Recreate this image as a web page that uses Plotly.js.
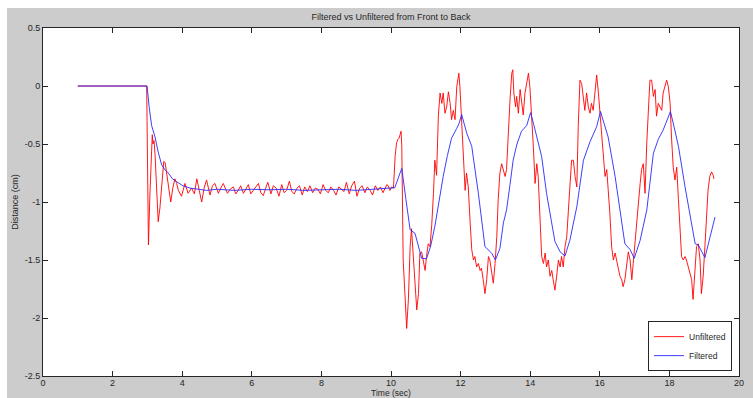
<!DOCTYPE html>
<html>
<head>
<meta charset="utf-8">
<script src="https://cdn.plot.ly/plotly-3.0.1.min.js"></script>
<style>
html,body{margin:0;padding:0;background:#ffffff;}
#chart{position:absolute;left:7px;top:8px;width:746px;height:390px;}
</style>
</head>
<body>
<div id="chart"></div>
<script>
// Unfiltered (red) series: time (s) and distance (cm)
const unfilteredT = [
1.0, 2.0, 2.98, 2.99, 3.0, 3.03, 3.07, 3.11, 3.14, 3.16, 3.19, 3.22, 3.26, 3.31, 3.36, 3.42, 3.47, 3.51, 3.55, 3.61, 3.67, 3.73, 3.79, 3.84, 3.89, 3.98, 4.08, 4.17, 4.27, 4.35, 4.42, 4.49, 4.56, 4.63, 4.70, 4.80, 4.87, 4.94, 5.04, 5.11, 5.18, 5.30, 5.38, 5.47, 5.54, 5.61, 5.68, 5.76, 5.83, 5.90, 5.97, 6.04, 6.12, 6.19, 6.26, 6.33, 6.40, 6.46,
6.55, 6.62, 6.70, 6.78, 6.86, 6.93, 7.0, 7.08, 7.15, 7.22, 7.30, 7.37, 7.45, 7.52, 7.60, 7.67, 7.75, 7.82, 7.90, 7.97, 8.05, 8.12, 8.20, 8.27, 8.35, 8.42, 8.50, 8.57, 8.65, 8.72, 8.80, 8.87, 8.95, 9.02, 9.10, 9.17, 9.25, 9.32, 9.40, 9.47, 9.55, 9.62, 9.70, 9.77, 9.83, 9.88, 9.92, 9.97, 10.02, 10.07,
10.12, 10.16, 10.20, 10.23, 10.26, 10.29, 10.31, 10.35, 10.40, 10.45, 10.50, 10.55, 10.59, 10.64, 10.69, 10.74, 10.79, 10.83, 10.88, 10.93, 10.98, 11.02, 11.07, 11.12, 11.17, 11.22, 11.26, 11.31, 11.36, 11.41, 11.46, 11.50, 11.55, 11.60, 11.65, 11.70, 11.74, 11.79, 11.84, 11.89, 11.93, 11.95, 11.98, 12.03, 12.08, 12.13, 12.17, 12.22, 12.27, 12.32, 12.37, 12.41, 12.46, 12.51, 12.56, 12.60, 12.65, 12.70, 12.75, 12.80, 12.84, 12.89, 12.94, 12.99, 13.04, 13.08, 13.13, 13.18, 13.23, 13.28, 13.32,
13.37, 13.42, 13.47, 13.50, 13.53, 13.58, 13.61, 13.66, 13.71, 13.75, 13.80, 13.85, 13.92, 13.95, 13.99, 14.04, 14.09, 14.14, 14.19, 14.23, 14.28, 14.33, 14.38, 14.43, 14.47, 14.52, 14.57, 14.62, 14.66, 14.71, 14.76, 14.81, 14.86, 14.90, 14.95, 15.0, 15.05, 15.10, 15.14, 15.19, 15.24, 15.29, 15.34, 15.38, 15.43, 15.48, 15.53, 15.57, 15.62, 15.67, 15.72, 15.76, 15.81, 15.86, 15.91, 15.96, 16.01, 16.05, 16.10, 16.15, 16.20, 16.24, 16.29, 16.34, 16.39, 16.44, 16.48, 16.53,
16.58, 16.63, 16.67, 16.72, 16.77, 16.82, 16.87, 16.92, 16.96, 17.01, 17.06, 17.11, 17.16, 17.20, 17.25, 17.30, 17.35, 17.39, 17.44, 17.49, 17.54, 17.59, 17.63, 17.68, 17.73, 17.78, 17.82, 17.87, 17.92, 17.97, 18.02, 18.06, 18.11, 18.16, 18.21, 18.26, 18.30, 18.35, 18.40, 18.45, 18.49, 18.54, 18.59, 18.64, 18.68, 18.73, 18.78, 18.83, 18.88, 18.92, 18.97, 19.02, 19.07, 19.11, 19.16, 19.21, 19.26, 19.28
];
const unfilteredV = [
0, 0, 0, -0.30, -0.85, -1.37, -0.95, -0.55, -0.42, -0.50, -0.47, -0.59, -0.90, -1.17, -1.05, -0.82, -0.65, -0.66, -0.74, -0.88, -1.00, -0.88, -0.80, -0.84, -0.90, -0.95, -0.84, -0.925, -0.88, -0.93, -0.80, -0.90, -1.00, -0.88, -0.81, -0.94, -0.86, -0.84, -0.925, -0.88, -0.84, -0.925, -0.89, -0.87, -0.93, -0.90, -0.86, -0.925, -0.88, -0.85, -0.93, -0.90, -0.87, -0.84, -0.92, -0.945, -0.88, -0.83,
-0.93, -0.86, -0.88, -0.95, -0.85, -0.92, -0.90, -0.82, -0.91, -0.93, -0.88, -0.86, -0.94, -0.87, -0.91, -0.86, -0.92, -0.88, -0.89, -0.93, -0.85, -0.90, -0.92, -0.87, -0.90, -0.94, -0.87, -0.89, -0.91, -0.83, -0.93, -0.86, -0.82, -0.95, -0.88, -0.86, -0.92, -0.87, -0.90, -0.94, -0.86, -0.90, -0.87, -0.92, -0.88, -0.85, -0.86, -0.90, -0.87, -0.88,
-0.60, -0.49, -0.46, -0.45, -0.42, -0.39, -0.52, -1.50, -1.79, -2.09, -1.84, -1.385, -1.23, -1.50, -1.75, -1.93, -1.79, -1.44, -1.43, -1.50, -1.59, -1.47, -1.36, -1.385, -1.20, -0.925, -0.64, -0.77, -0.26, -0.06, -0.15, -0.06, -0.235, -0.18, -0.05, -0.15, -0.29, -0.21, -0.29, -0.005, 0.08, 0.11, -0.005, -0.35, -0.64, -0.90, -0.75, -0.87, -1.155, -1.41, -1.50, -1.47, -1.56, -1.53, -1.59, -1.57, -1.67, -1.79, -1.67, -1.47, -1.50, -1.59, -1.70, -1.53, -1.30, -0.98, -0.75, -0.67, -0.72, -0.78, -0.72,
-0.35, -0.12, 0.11, 0.14, -0.06, -0.18, -0.09, -0.235, -0.03, -0.12, -0.25, -0.06, 0.05, 0.11, -0.005, -0.235, -0.52, -0.84, -0.67, -0.78, -1.10, -1.47, -1.53, -1.44, -1.56, -1.50, -1.64, -1.59, -1.67, -1.76, -1.64, -1.50, -1.56, -1.47, -1.56, -1.385, -1.30, -1.10, -0.87, -0.64, -0.64, -0.78, -0.87, -0.35, 0.05, 0.02, -0.09, -0.21, -0.06, -0.18, -0.235, -0.15, -0.21, -0.03, 0.095, -0.06, -0.26, -0.44, -0.64, -0.78, -0.72, -0.87, -1.10, -1.385, -1.50, -1.44, -1.50, -1.56,
-1.64, -1.67, -1.73, -1.67, -1.56, -1.43, -1.50, -1.67, -1.53, -1.33, -1.18, -1.01, -0.84, -0.72, -0.67, -0.925, -0.49, -0.21, 0.05, 0.05, -0.09, -0.03, -0.26, -0.15, -0.18, -0.21, -0.06, -0.005, 0.05, -0.005, -0.15, -0.44, -0.70, -0.81, -0.70, -0.98, -1.21, -1.47, -1.50, -1.47, -1.50, -1.56, -1.61, -1.67, -1.84, -1.64, -1.385, -1.36, -1.50, -1.79, -1.64, -1.385, -1.155, -0.90, -0.78, -0.74, -0.77, -0.80
];

// Filtered (blue) series
const filteredT = [
1.0, 2.0, 2.99, 3.05, 3.12, 3.22, 3.31, 3.41, 3.50, 3.60, 3.72, 3.84, 4.02, 4.22, 4.45, 4.70, 5.0, 5.5, 6.0, 6.5, 7.0, 7.5, 8.0, 8.5, 9.0, 9.5, 9.83, 10.0, 10.11, 10.20, 10.31, 10.43, 10.55, 10.69, 10.78, 10.88, 11.02, 11.14, 11.26, 11.38, 11.50, 11.62, 11.74, 11.89, 11.96, 12.03, 12.10, 12.18, 12.32, 12.51, 12.70, 12.89, 13.0, 13.13, 13.23, 13.32, 13.42, 13.51, 13.62, 13.75, 13.90, 14.01, 14.10, 14.19, 14.33, 14.47, 14.59, 14.71, 14.86, 15.0, 15.14, 15.34, 15.53, 15.72, 15.91, 16.02, 16.12, 16.24, 16.44, 16.58, 16.72, 16.87, 16.99, 17.16, 17.35, 17.54, 17.68, 17.82, 17.93, 18.03, 18.14, 18.26, 18.45, 18.60, 18.74, 18.83, 19.02, 19.17, 19.31
];
const filteredV = [
0, 0, 0, -0.18, -0.34, -0.44, -0.57, -0.68, -0.72, -0.75, -0.80, -0.825, -0.86, -0.88, -0.89, -0.90, -0.89, -0.90, -0.89, -0.895, -0.89, -0.90, -0.895, -0.89, -0.90, -0.89, -0.885, -0.885, -0.877, -0.80, -0.71, -0.98, -1.24, -1.27, -1.38, -1.485, -1.49, -1.38, -1.21, -0.99, -0.78, -0.60, -0.45, -0.365, -0.32, -0.245, -0.33, -0.41, -0.52, -0.925, -1.385, -1.44, -1.50, -1.40, -1.18, -1.07, -0.85, -0.64, -0.50, -0.39, -0.34, -0.23, -0.33, -0.44, -0.61, -0.925, -1.15, -1.34, -1.43, -1.465, -1.33, -1.04, -0.64, -0.48, -0.35, -0.22, -0.32, -0.44, -0.78, -1.08, -1.36, -1.41, -1.485, -1.33, -1.07, -0.58, -0.46, -0.38, -0.30, -0.22, -0.36, -0.52, -0.87, -1.13, -1.36, -1.37, -1.48, -1.30, -1.13
];

const xTicks = [0, 2, 4, 6, 8, 10, 12, 14, 16, 18, 20];
const yTicks = [0.5, 0, -0.5, -1, -1.5, -2, -2.5];
const yTickText = ['0.5', '0', '-0.5', '-1', '-1.5', '-2', '-2.5'];

const font = {family: 'Liberation Sans, Arial, sans-serif', size: 9, color: '#262626'};

const traces = [
  {x: unfilteredT, y: unfilteredV, type: 'scatter', mode: 'lines', name: 'Unfiltered',
   line: {color: 'rgb(255,0,0)', width: 0.9}},
  {x: filteredT, y: filteredV, type: 'scatter', mode: 'lines', name: 'Filtered',
   line: {color: 'rgb(40,40,255)', width: 0.9}}
];

const axisCommon = {
  showgrid: false, zeroline: false, showline: true, linecolor: '#262626', linewidth: 1,
  mirror: 'ticks', ticks: 'inside', ticklen: 5, tickcolor: '#262626', tickwidth: 1,
  tickfont: font, automargin: false
};

const layout = {
  width: 746, height: 390,
  paper_bgcolor: '#cccccc', plot_bgcolor: '#ffffff',
  margin: {l: 36, r: 14, t: 20, b: 22},
  font: font,
  showlegend: true,
  title: {text: 'Filtered vs Unfiltered from Front to Back', font: {family: font.family, size: 9, color: '#262626'},
          x: 0.5, xanchor: 'center', y: 0.978, yanchor: 'middle', xref: 'paper'},
  xaxis: Object.assign({}, axisCommon, {
    range: [0, 20], tickvals: xTicks, ticktext: xTicks.map(String),
    ticklabelstandoff: -2,
    title: {text: 'Time (sec)', font: {family: font.family, size: 8.5, color: '#262626'}, standoff: 6}
  }),
  yaxis: Object.assign({}, axisCommon, {
    range: [-2.5, 0.5], tickvals: yTicks, ticktext: yTickText,
    title: {text: 'Distance (cm)', font: font, standoff: 4}
  }),
  legend: {
    x: 0.99, y: 0.014, xanchor: 'right', yanchor: 'bottom',
    bgcolor: '#ffffff', bordercolor: '#262626', borderwidth: 1,
    font: {family: font.family, size: 8.5, color: '#262626'}, tracegroupgap: 0, itemwidth: 30
  }
};

Plotly.newPlot('chart', traces, layout, {displayModeBar: false, staticPlot: true});
</script>
</body>
</html>
